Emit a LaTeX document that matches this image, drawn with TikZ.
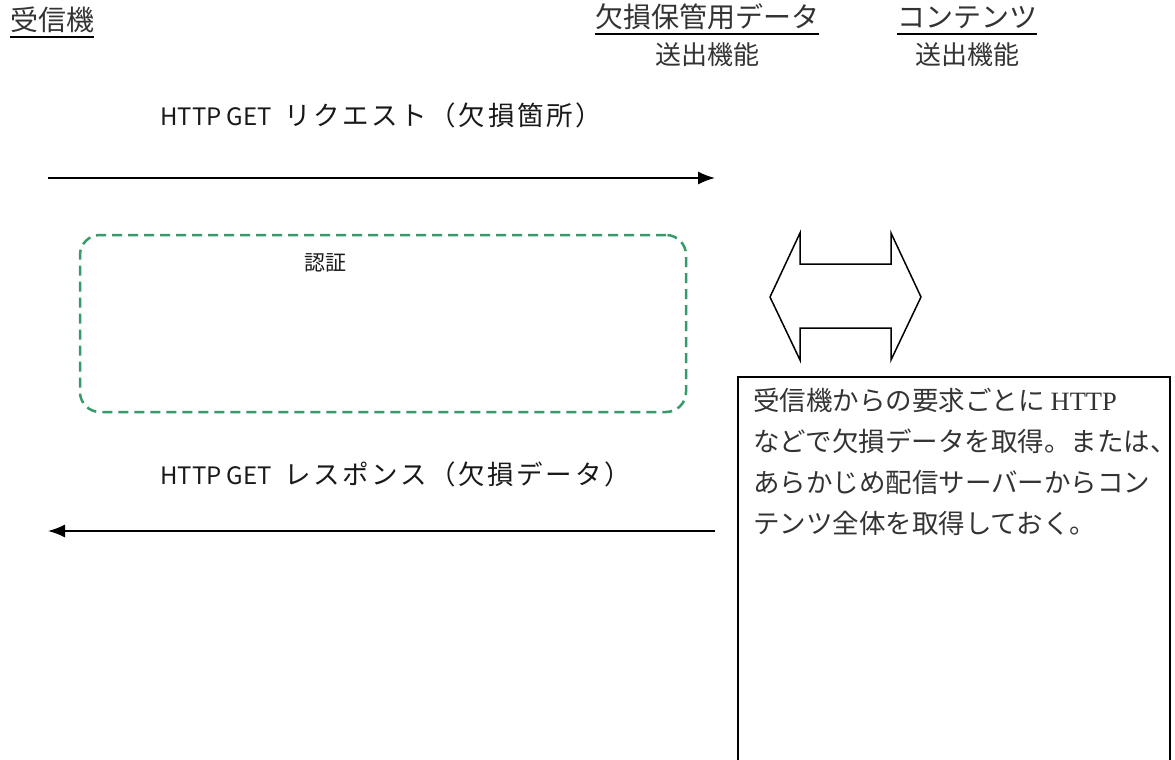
\documentclass[tikz,border=0pt]{standalone}
\usepackage{fontspec}
\setmainfont{Liberation Serif}
\newfontfamily\jpfont{Noto Sans CJK JP}
\usetikzlibrary{arrows.meta}
\definecolor{authgreen}{RGB}{55,155,105}
\newcommand{\jpmsg}[1]{\hspace{12pt}{\fontsize{26.5}{30}\selectfont\addfontfeature{LetterSpace=10}#1}}

\begin{document}
\begin{tikzpicture}[x=1pt, y=-1pt,
  actor/.style={font=\jpfont\fontsize{28}{34}\selectfont, inner sep=0, text=black!80},
  func/.style={font=\jpfont\fontsize{26}{32}\selectfont, inner sep=0, text=black!80},
  msg/.style={font=\jpfont\fontsize{24}{28}\selectfont,
    inner sep=0, anchor=west, text=black!90},
  arr/.style={-{Latex[length=17pt,width=13pt]}, line width=1.6pt},
  uline/.style={line width=1.8pt},
  authbox/.style={draw=authgreen, dash pattern=on 10pt off 6pt, line width=2.5pt,
    rounded corners=20pt, minimum width=606pt, minimum height=177pt, inner sep=0},
  infobox/.style={draw, line width=1.5pt, anchor=north west, minimum width=432pt,
    minimum height=400pt, inner sep=0}
]
\useasboundingbox (0,0) rectangle (1175,760);
\clip (0,0) rectangle (1175,760);

% lanes
\node[actor, anchor=base west] (recv) at (10,31) {受信機};
\node[actor, anchor=base] (store) at (707,28) {欠損保管用データ};
\node[actor, anchor=base] (content) at (967,28) {コンテンツ};
\node[func, anchor=base] (storefn) at (707,65) {送出機能};
\node[func, anchor=base] (contentfn) at (967,65) {送出機能};
\draw[uline] ([yshift=-6pt]recv.base west) -- ([yshift=-6pt]recv.base east);
\draw[uline] ([yshift=-6pt]store.base west) -- ([yshift=-6pt]store.base east);
\draw[uline] ([yshift=-6pt]content.base west) -- ([yshift=-6pt]content.base east);

% request
\node[msg] (reqlabel) at (160,115) {HTTP GET\jpmsg{リクエスト（欠損箇所）}};
\coordinate (reqstart) at (48,178);
\coordinate (reqend) at (715,178);
\draw[arr] (reqstart) -- (reqend);

% authentication
\node[msg, anchor=center, font=\jpfont\fontsize{21}{24}\selectfont] (authlabel)
  at (325,263) {認証};
\node[authbox] (auth) at (383,323.5) {};

% response
\node[msg] (reslabel) at (160,474) {HTTP GET\jpmsg{レスポンス（欠損データ）}};
\coordinate (resstart) at (715,531);
\coordinate (resend) at (48,531);
\draw[arr] (resstart) -- (resend);

% exchange with content server
\draw[line width=1.5pt] (770,297) -- (800,233) -- (800,264) -- (891,264) -- (891,233)
  -- (921,297) -- (891,360) -- (891,328) -- (800,328) -- (800,360) -- cycle;

\node[infobox] (fetchbox) at (737,376) {};
\node[anchor=north west, align=left, inner sep=0, text=black!80,
  font=\jpfont\fontsize{26.5}{41}\selectfont] (fetchtext)
  at ([shift={(16,12)}]fetchbox.north west)
  {受信機からの要求ごとに {\rmfamily HTTP}\\
   などで欠損データを取得。または、\\
   あらかじめ配信サーバーからコン\\
   テンツ全体を取得しておく。};
\end{tikzpicture}
\end{document}
